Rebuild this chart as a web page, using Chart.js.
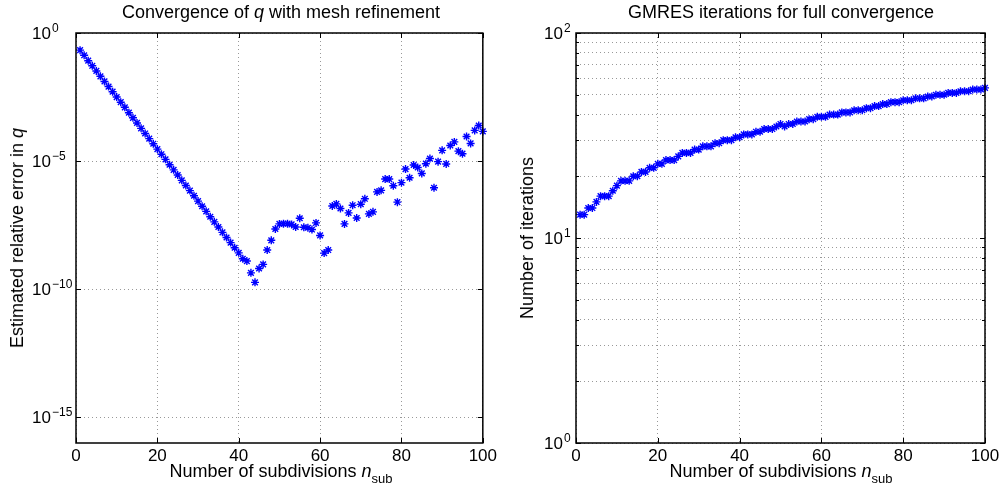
<!DOCTYPE html>
<html lang="en">
<head>
<meta charset="UTF-8">
<title>Convergence of q and GMRES iterations</title>
<script src="https://cdn.jsdelivr.net/npm/chart.js"></script>
<style>
  body { margin: 0; background: #fff; font-family: "Liberation Sans", Arial, sans-serif; }
  #wrap { position: relative; width: 1003px; height: 494px; overflow: hidden; }
  .box { position: absolute; top: 0; height: 494px; }
  .lbl { position: absolute; white-space: nowrap; font-size: 18px; line-height: 1; color: #000;
         transform: translate(-50%, -50%); }
  .rot { transform: translate(-50%, -50%) rotate(-90deg); }
  sub { font-size: 13px; vertical-align: -6px; line-height: 0; }
</style>
</head>
<body>
<div id="wrap">
  <div class="box" style="left:0;width:500px"><canvas id="errChart"></canvas></div>
  <div class="box" style="left:500px;width:503px"><canvas id="iterChart"></canvas></div>

  <div class="lbl" style="left:281px;top:12px">Convergence of <i>q</i> with mesh refinement</div>
  <div class="lbl" style="left:781px;top:12px">GMRES iterations for full convergence</div>
  <div class="lbl" style="left:281px;top:471px">Number of subdivisions <i>n</i><sub>sub</sub></div>
  <div class="lbl" style="left:781px;top:471px">Number of subdivisions <i>n</i><sub>sub</sub></div>
  <div class="lbl rot" style="left:17px;top:238px">Estimated relative error in <i>q</i></div>
  <div class="lbl rot" style="left:527px;top:238px">Number of iterations</div>
</div>

<script>
// number of subdivisions
const nSub = [];
for (let n = 1; n <= 100; n++) nSub.push(n);

// estimated relative error in q, stored as log10 values
const errLog10 = [
  -0.67, -0.87, -1.08, -1.28, -1.48, -1.69, -1.89, -2.09, -2.29, -2.50,
  -2.70, -2.90, -3.11, -3.31, -3.51, -3.72, -3.92, -4.12, -4.32, -4.53,
  -4.73, -4.93, -5.14, -5.34, -5.54, -5.75, -5.95, -6.15, -6.35, -6.56,
  -6.76, -6.96, -7.17, -7.37, -7.57, -7.78, -7.98, -8.18, -8.38, -8.58,
  -8.81, -8.90, -9.36, -9.73, -9.19, -9.03, -8.47, -8.09, -7.65, -7.45,
  -7.44, -7.44, -7.47, -7.57, -7.23, -7.58, -7.60, -7.67, -7.41, -7.90,
  -8.59, -8.47, -6.75, -6.67, -6.85, -7.45, -7.02, -6.72, -7.22, -6.68,
  -6.47, -7.06, -6.98, -6.20, -6.14, -5.70, -5.70, -5.96, -6.60, -5.84,
  -5.31, -5.65, -5.15, -5.25, -5.48, -5.10, -4.90, -6.04, -5.02, -4.58,
  -5.11, -4.39, -4.25, -4.61, -4.71, -4.04, -4.31, -3.80, -3.61, -3.84
];

// GMRES iterations for full convergence
const gmresIters = [
  13, 13, 14, 14, 15, 16, 16, 16, 17, 18,
  19, 19, 19, 20, 20, 21, 21, 22, 22, 23,
  23, 24, 24, 24, 25, 26, 26, 26, 27, 27,
  28, 28, 28, 29, 29, 30, 30, 30, 31, 31,
  32, 32, 32, 33, 33, 34, 34, 34, 35, 36,
  35, 36, 36, 37, 37, 37, 38, 38, 39, 39,
  39, 40, 40, 40, 41, 41, 41, 42, 42, 42,
  43, 43, 44, 44, 45, 45, 46, 46, 46, 47,
  47, 47, 48, 48, 48, 49, 49, 50, 50, 50,
  51, 51, 51, 52, 52, 52, 53, 53, 53, 54
];

const xTicks = [0, 20, 40, 60, 80, 100];
const errYTicks = [1e-15, 1e-10, 1e-5, 1e0];
const iterYTicks = [1, 2, 3, 4, 5, 6, 7, 8, 9, 10, 20, 30, 40, 50, 60, 70, 80, 90, 100];

const FONT = '"Liberation Sans", Arial, sans-serif';

function isPow10(v) {
  const l = Math.log10(v);
  return Math.abs(l - Math.round(l)) < 1e-9;
}

// box, inward ticks and 10^k labels in matlab style
const frame = {
  id: 'frame',
  afterDraw(chart, args, opts) {
    const { ctx, chartArea: a, scales: { x, y } } = chart;
    ctx.save();
    ctx.strokeStyle = '#000';
    ctx.lineWidth = 1;
    ctx.beginPath();
    x.ticks.forEach(t => {
      const px = Math.round(x.getPixelForValue(t.value)) + 0.5;
      ctx.moveTo(px, a.bottom); ctx.lineTo(px, a.bottom - 5);
      ctx.moveTo(px, a.top); ctx.lineTo(px, a.top + 5);
    });
    y.ticks.forEach(t => {
      const len = isPow10(t.value) ? 5 : 3;
      const py = Math.round(y.getPixelForValue(t.value)) + 0.5;
      ctx.moveTo(a.left, py); ctx.lineTo(a.left + len, py);
      ctx.moveTo(a.right, py); ctx.lineTo(a.right - len, py);
    });
    ctx.stroke();
    ctx.lineWidth = 1.5;
    ctx.strokeRect(a.left, a.top, a.right - a.left, a.bottom - a.top);

    ctx.fillStyle = '#000';
    ctx.textBaseline = 'alphabetic';
    y.ticks.forEach(t => {
      if (!isPow10(t.value)) return;
      const e = Math.round(Math.log10(t.value));
      const py = y.getPixelForValue(t.value);
      const bx = a.left - opts.baseGap;
      ctx.font = '17px ' + FONT;
      ctx.textAlign = 'right';
      ctx.fillText('10', bx, py + 6);
      ctx.font = '12px ' + FONT;
      ctx.textAlign = 'left';
      ctx.fillText(String(e).replace('-', '\u2212'), bx + 1, py - 1);
    });
    ctx.restore();
  }
};

function makeChart(id, values, yMin, yMax, yTicks, padRight, baseGap) {
  const points = nSub.map((n, i) => ({ x: n, y: values[i] }));
  return new Chart(document.getElementById(id), {
    type: 'scatter',
    data: {
      datasets: [{
        data: points,
        pointStyle: 'star',
        pointRadius: 4,
        pointBorderWidth: 1.4,
        borderColor: '#0000ff',
        backgroundColor: '#0000ff',
        clip: false
      }]
    },
    options: {
      responsive: true,
      maintainAspectRatio: false,
      animation: false,
      layout: { padding: { top: 33, right: padRight, left: 0, bottom: 0 } },
      plugins: { legend: { display: false }, tooltip: { enabled: false }, frame: { baseGap: baseGap } },
      scales: {
        x: {
          type: 'linear',
          min: 0, max: 100,
          afterBuildTicks: s => { s.ticks = xTicks.map(v => ({ value: v })); },
          afterFit: s => { s.height = 51; },
          ticks: { color: '#000', font: { family: FONT, size: 17 }, padding: 3, maxRotation: 0 },
          grid: { color: 'rgba(0,0,0,0.4)', lineWidth: 1, drawTicks: false },
          border: { display: false, dash: [1, 3] }
        },
        y: {
          type: 'logarithmic',
          min: yMin, max: yMax,
          afterBuildTicks: s => { s.ticks = yTicks.map(v => ({ value: v })); },
          afterFit: s => { s.width = 76; },
          ticks: { display: false },
          grid: { color: 'rgba(0,0,0,0.4)', lineWidth: 1, drawTicks: false },
          border: { display: false, dash: [1, 3] }
        }
      }
    },
    plugins: [frame]
  });
}

const errValues = errLog10.map(v => Math.pow(10, v));
makeChart('errChart', errValues, 1e-16, 1, errYTicks, 15, 25);
makeChart('iterChart', gmresIters, 1, 100, iterYTicks, 18, 13);
</script>
</body>
</html>
